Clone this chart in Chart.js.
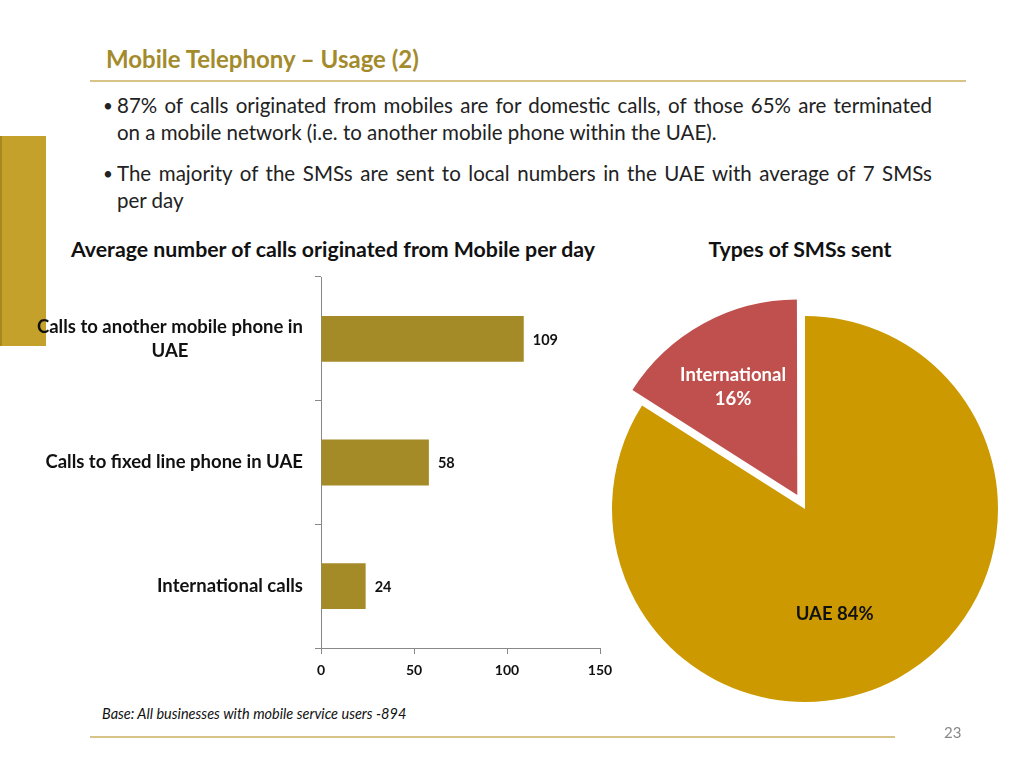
<!DOCTYPE html>
<html>
<head>
<meta charset="utf-8">
<script src="https://cdn.jsdelivr.net/npm/chart.js@4"></script>
<style>
  body { margin: 0; width: 1024px; height: 768px; background: #fff; position: relative; overflow: hidden; font-family: Lato, "Open Sans", sans-serif; }
  .abs { position: absolute; }
  #slideTitle { left: 106px; top: 44px; font-size: 24px; font-weight: bold; color: #A38B2C; white-space: nowrap; }
  #titleRule { left: 90px; top: 80px; width: 876px; height: 2px; background: #D8C488; }
  #sideBar { left: 0; top: 136px; width: 44px; height: 210px; background: #C4A12A; border-left: 2px solid #A8891E; }
  .bullet { left: 103px; font-size: 20.5px; color: #222; line-height: 27px; }
  .bullet .dot { position: absolute; left: 0; font-size: 17px; }
  .bullet .ln { margin-left: 14px; width: 815px; white-space: nowrap; }
  .bullet .just { text-align: justify; text-align-last: justify; }
  .chartTitle { font-size: 21.3px; font-weight: bold; color: #111; white-space: nowrap; transform: translateX(-50%); }
  #barWrap { left: 20px; top: 270px; width: 605px; height: 420px; }
  #pieWrap { left: 595px; top: 294px; width: 420px; height: 430px; }
  #baseNote { left: 102px; top: 705px; font-size: 14.5px; font-style: italic; color: #111; white-space: nowrap; }
  #footRule { left: 90px; top: 736px; width: 805px; height: 2px; background: #D8C488; }
  #pageNo { left: 944px; top: 723px; font-size: 15px; color: #888; }
</style>
</head>
<body>
<div id="slideTitle" class="abs">Mobile Telephony – Usage (2)</div>
<div id="titleRule" class="abs"></div>
<div id="sideBar" class="abs"></div>

<div class="abs bullet" style="top:92px">
  <span class="dot">•</span>
  <div class="ln just">87% of calls originated from mobiles are for domestic calls, of those 65% are terminated</div>
  <div class="ln">on a mobile network (i.e. to another mobile phone within the UAE).</div>
</div>
<div class="abs bullet" style="top:160px">
  <span class="dot">•</span>
  <div class="ln just">The majority of the SMSs are sent to local numbers in the UAE with average of 7 SMSs</div>
  <div class="ln">per day</div>
</div>

<div class="abs chartTitle" style="left:333px; top:236px">Average number of calls originated from Mobile per day</div>
<div class="abs chartTitle" style="left:800px; top:236px">Types of SMSs sent</div>

<div id="barWrap" class="abs"><canvas id="callsChart"></canvas></div>
<div id="pieWrap" class="abs"><canvas id="smsChart"></canvas></div>

<div id="baseNote" class="abs">Base: All businesses with mobile service users -894</div>
<div id="footRule" class="abs"></div>
<div id="pageNo" class="abs">23</div>

<script>
// data
const callCategories = [['Calls to another mobile phone in', 'UAE'], ['Calls to fixed line phone in UAE'], ['International calls']];
const callsPerDay = [109, 58, 24];
const callTicks = [0, 50, 100, 150];

const smsTypes = ['UAE', 'International'];
const smsShares = [84, 16];

const LABEL_FONT = 'bold 18.5px Lato, "Open Sans", sans-serif';
const VALUE_FONT = 'bold 14.5px Lato, "Open Sans", sans-serif';

// category labels: block right aligned to the axis, lines centred inside it
const categoryLabels = {
    id: 'categoryLabels',
    afterDraw(chart) {
        const ctx = chart.ctx;
        const y = chart.scales.y;
        const right = y.right - 18;
        ctx.save();
        ctx.font = LABEL_FONT;
        ctx.fillStyle = '#111';
        ctx.textAlign = 'center';
        ctx.textBaseline = 'middle';
        callCategories.forEach((lines, i) => {
            const w = Math.max(...lines.map(l => ctx.measureText(l).width));
            const cx = right - w / 2;
            const cy = y.getPixelForValue(i) - (lines.length - 1) * 12;
            lines.forEach((l, k) => ctx.fillText(l, cx, cy + k * 24));
        });
        ctx.restore();
    }
};

const barValues = {
    id: 'barValues',
    afterDatasetsDraw(chart) {
        const ctx = chart.ctx;
        ctx.save();
        ctx.font = VALUE_FONT;
        ctx.fillStyle = '#111';
        ctx.textBaseline = 'middle';
        chart.getDatasetMeta(0).data.forEach((bar, i) => {
            ctx.fillText(String(callsPerDay[i]), bar.x + 9, bar.y + 1);
        });
        ctx.restore();
    }
};

new Chart(document.getElementById('callsChart'), {
    type: 'bar',
    data: {
        labels: callCategories.map(l => l.join(' ')),
        datasets: [{
            data: callsPerDay,
            backgroundColor: '#A58A28',
            barPercentage: 0.37,
            categoryPercentage: 1
        }]
    },
    plugins: [categoryLabels, barValues],
    options: {
        indexAxis: 'y',
        responsive: true,
        maintainAspectRatio: false,
        animation: false,
        layout: { padding: { top: 7, right: 25 } },
        plugins: { legend: { display: false }, tooltip: { enabled: false } },
        scales: {
            x: {
                min: callTicks[0],
                max: callTicks[callTicks.length - 1],
                afterBuildTicks: s => { s.ticks = callTicks.map(v => ({ value: v })); },
                afterFit: s => { s.height = 42; },
                grid: { drawOnChartArea: false, drawTicks: true, tickLength: 6, color: '#888' },
                border: { color: '#888' },
                ticks: { color: '#111', font: { family: 'Lato', size: 14, weight: 'bold' }, padding: 8, maxRotation: 0 }
            },
            y: {
                afterFit: s => { s.width = 301; },
                grid: { offset: true, drawOnChartArea: false, drawTicks: true, tickLength: 6, color: '#888' },
                border: { color: '#888' },
                ticks: { display: false }
            }
        }
    }
});

// slice labels: [angle shift in degrees from the slice middle, fraction of radius]
const sliceLabelSpot = [[13, 0.565], [-2, 0.65]];
const sliceLabelText = [['UAE 84%'], ['International', '16%']];
const sliceLabelColor = ['#111', '#fff'];

const sliceLabels = {
    id: 'sliceLabels',
    afterDatasetsDraw(chart) {
        const ctx = chart.ctx;
        const arcs = chart.getDatasetMeta(0).data;
        ctx.save();
        ctx.font = LABEL_FONT;
        ctx.textAlign = 'center';
        ctx.textBaseline = 'middle';
        arcs.forEach((arc, i) => {
            const { x, y, startAngle, endAngle, outerRadius } = arc.getProps(['x', 'y', 'startAngle', 'endAngle', 'outerRadius'], true);
            const mid = (startAngle + endAngle) / 2;
            // the arc element moves a slice by a quarter of its offset option
            const off = (arc.options.offset || 0) / 4;
            const cx = x + Math.cos(mid) * off;
            const cy = y + Math.sin(mid) * off;
            const a = mid + sliceLabelSpot[i][0] * Math.PI / 180;
            const r = outerRadius * sliceLabelSpot[i][1];
            const lx = cx + Math.cos(a) * r;
            const ly = cy + Math.sin(a) * r;
            const lines = sliceLabelText[i];
            ctx.fillStyle = sliceLabelColor[i];
            lines.forEach((l, k) => ctx.fillText(l, lx, ly + (k - (lines.length - 1) / 2) * 24));
        });
        ctx.restore();
    }
};

new Chart(document.getElementById('smsChart'), {
    type: 'pie',
    data: {
        labels: smsTypes,
        datasets: [{
            data: smsShares,
            backgroundColor: ['#CC9900', '#C0504D'],
            borderWidth: 0,
            offset: [0, 64]
        }]
    },
    plugins: [sliceLabels],
    options: {
        responsive: true,
        maintainAspectRatio: false,
        animation: false,
        radius: 193,
        rotation: 0,
        plugins: { legend: { display: false }, tooltip: { enabled: false } }
    }
});
</script>
</body>
</html>
